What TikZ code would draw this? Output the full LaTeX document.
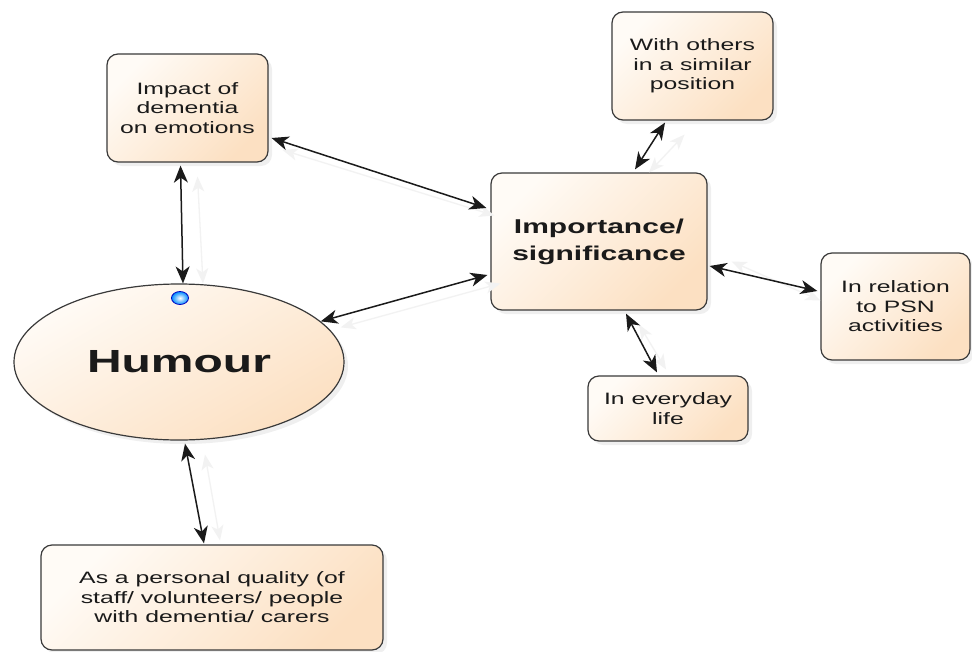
\documentclass[tikz,border=0pt]{standalone}
\usepackage{fontspec}
\setmainfont{Liberation Sans}[FakeStretch=1.5]
\usetikzlibrary{shapes.geometric,arrows.meta,shadows,calc}
\definecolor{peachA}{HTML}{FFFBF6}
\definecolor{peachB}{HTML}{FCE0C2}
\definecolor{edgecol}{HTML}{3A3A3A}
\definecolor{txtcol}{HTML}{1A1A1A}
\definecolor{arrcol}{HTML}{1A1A1A}
\begin{document}
\begin{tikzpicture}[x=1pt,y=-1pt,
  conceptbox/.style={rectangle, draw=edgecol, line width=1.2pt, rounded corners=11pt,
    top color=peachA, bottom color=peachB, shading angle=45,
    drop shadow={shadow xshift=4pt, shadow yshift=-4pt, opacity=0.12},
    align=center, text=txtcol, inner sep=0pt,
    font=\fontsize{16.5}{19.5}\selectfont},
  bigoval/.style={ellipse, draw=edgecol, line width=1.2pt,
    top color=peachA, bottom color=peachB, shading angle=30,
    drop shadow={shadow xshift=4pt, shadow yshift=-4pt, opacity=0.12},
    text=txtcol, inner sep=0pt, font=\bfseries\fontsize{32}{36}\selectfont},
  link/.style={draw=arrcol, line width=1.5pt,
    {Stealth[length=17pt,width=14pt,inset=5pt]}-{Stealth[length=17pt,width=14pt,inset=5pt]}},
  linkshadow/.style={draw=black!5, line width=1.3pt,
    {Stealth[length=15pt,width=12pt,inset=4pt]}-{Stealth[length=15pt,width=12pt,inset=4pt]}}
]
\path[fill=white] (0,0) rectangle (972,651);

% nodes
\node[conceptbox, minimum width=161pt, minimum height=108pt] (impact) at (187.5,108)
  {Impact of\\dementia\\on emotions};
\node[conceptbox, minimum width=161pt, minimum height=108pt] (others) at (692.5,66)
  {With others\\in a similar\\position};
\node[conceptbox, minimum width=216pt, minimum height=137pt,
  font=\bfseries\fontsize{20}{27}\selectfont] (importance) at (599,241.5)
  {Importance/\\significance};
\node[conceptbox, minimum width=149pt, minimum height=107pt] (relation) at (895.5,306.5)
  {In relation\\to PSN\\activities};
\node[conceptbox, minimum width=160pt, minimum height=65pt] (everyday) at (668,408.5)
  {In everyday\\life};
\node[conceptbox, minimum width=342pt, minimum height=105pt] (personal) at (212,597.5)
  {As a personal quality (of\\staff/ volunteers/ people\\with dementia/ carers};
\node[bigoval, minimum width=330pt, minimum height=156pt] (humour) at (179,362) {Humour};

% shadow lines of connectors
\draw[linkshadow] ($(impact.south)+(10,14)$) -- ($(humour.north)+(24,0)$);
\draw[linkshadow] ($(impact.east)+(14,42)$) -- ($(importance.west)+(4,-26)$);
\draw[linkshadow] ($(humour.16)+(20,6)$) -- ($(importance.west)+(10,42)$);
\draw[linkshadow] ($(importance.north)+(50,0)$) -- ($(others.south)+(-8,14)$);
\draw[linkshadow] ($(importance.east)+(24,20)$) -- ($(relation.west)+(0,-6)$);
\draw[linkshadow] ($(importance.south)+(40,14)$) -- ($(everyday.north)+(-2,-6)$);
\draw[linkshadow] ($(humour.south)+(26,14)$) -- ($(personal.north)+(8,-4)$);

% connectors
\draw[link] ($(impact.south)+(-7,3)$) -- ($(humour.north)+(4,0)$);
\draw[link] ($(impact.east)+(3,30)$) -- ($(importance.west)+(-4,-33.5)$);
\draw[link] (humour.16) -- ($(importance.west)+(-3,33.5)$);
\draw[link] ($(importance.north)+(36,-3)$) -- ($(others.south)+(-27.5,2)$);
\draw[link] ($(importance.east)+(2,24.5)$) -- ($(relation.west)+(-3,-15.5)$);
\draw[link] ($(importance.south)+(27,3)$) -- ($(everyday.north)+(-11,-3)$);
\draw[link] ($(humour.south)+(6,3)$) -- ($(personal.north)+(-8,-1)$);

% blue handle on the oval
\node[ellipse, minimum width=17pt, minimum height=13pt, inner sep=0pt,
  draw=blue!75!black, line width=0.8pt, inner color=white, outer color=cyan!55!blue] (handle) at (180,298) {};
\end{tikzpicture}
\end{document}
